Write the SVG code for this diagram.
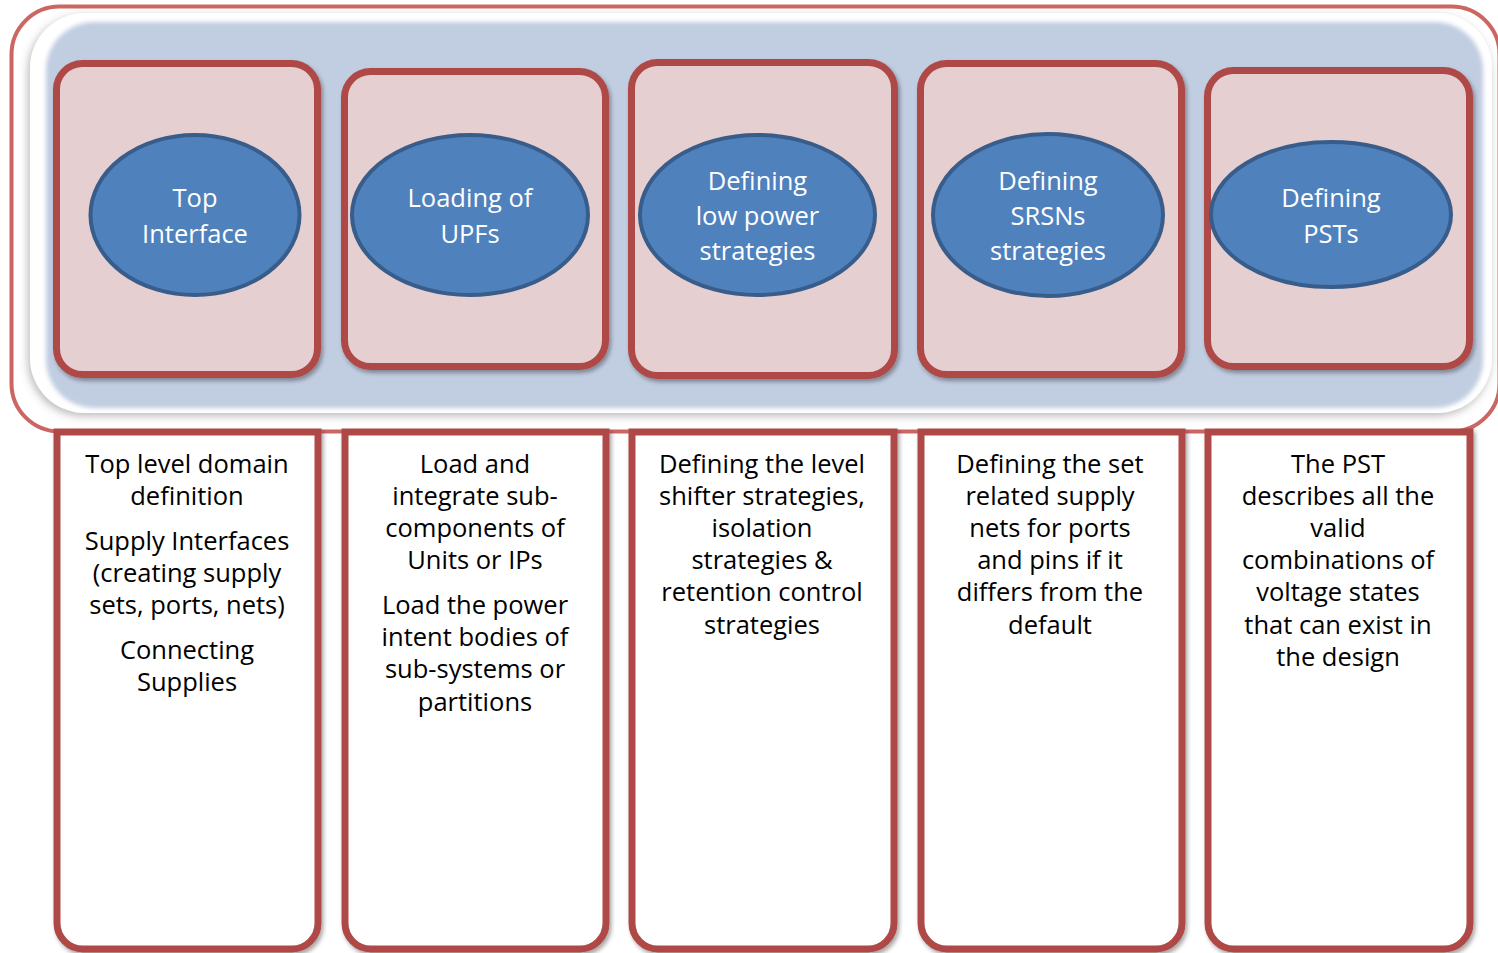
<svg xmlns="http://www.w3.org/2000/svg" width="1498" height="953" viewBox="0 0 1498 953">
<defs>
<filter id="sh" x="-10%" y="-10%" width="120%" height="120%">
<feDropShadow dx="2" dy="3" stdDeviation="2" flood-color="#000" flood-opacity="0.35"/>
</filter>
<filter id="band" x="-5%" y="-10%" width="110%" height="120%">
<feDropShadow dx="-2" dy="3" stdDeviation="4" flood-color="#666" flood-opacity="0.45"/>
</filter>
<filter id="soft" x="-5%" y="-10%" width="110%" height="120%">
<feGaussianBlur stdDeviation="2"/>
</filter>
<style>
.frame{fill:#fff;stroke:#CC6662;stroke-width:4}
.box{fill:#E6CFD0;stroke:#AE4A47;stroke-width:7;filter:url(#sh)}
.low{fill:#fff;stroke:#AE4A47;stroke-width:7;filter:url(#sh)}
.ell{fill:#4F81BD;stroke:#385D8A;stroke-width:4}
.et{font-family:"Open Sans","Noto Sans",sans-serif;font-size:25.5px;fill:#fff;text-anchor:middle}
.bt{font-family:"Open Sans","Noto Sans",sans-serif;font-size:25.5px;fill:#000;text-anchor:middle}
</style>
</defs>
<g id="background">
<rect class="frame" x="11.5" y="6.5" width="1488" height="425" rx="48"/>
<rect x="30" y="13" width="1462" height="400" rx="55" fill="#fff" filter="url(#band)"/>
<rect x="46" y="22" width="1437" height="386" rx="48" fill="#C1CDE1" filter="url(#soft)"/>
</g>
<g id="lower-boxes">
<g id="desc1">
<path class="low" d="M57,432 H318 V923 A26,26 0 0 1 292,949 H83 A26,26 0 0 1 57,923 Z"/>
<text class="bt" x="187" y="473">Top level domain</text>
<text class="bt" x="187" y="505">definition</text>
<text class="bt" x="187" y="550">Supply Interfaces</text>
<text class="bt" x="187" y="582">(creating supply</text>
<text class="bt" x="187" y="614">sets, ports, nets)</text>
<text class="bt" x="187" y="659">Connecting</text>
<text class="bt" x="187" y="691">Supplies</text>
</g>
<g id="desc2">
<path class="low" d="M345,432 H606 V923 A26,26 0 0 1 580,949 H371 A26,26 0 0 1 345,923 Z"/>
<text class="bt" x="475" y="473">Load and</text>
<text class="bt" x="475" y="505">integrate sub-</text>
<text class="bt" x="475" y="537">components of</text>
<text class="bt" x="475" y="569">Units or IPs</text>
<text class="bt" x="475" y="614">Load the power</text>
<text class="bt" x="475" y="646">intent bodies of</text>
<text class="bt" x="475" y="678">sub-systems or</text>
<text class="bt" x="475" y="711">partitions</text>
</g>
<g id="desc3">
<path class="low" d="M632,432 H894 V923 A26,26 0 0 1 868,949 H658 A26,26 0 0 1 632,923 Z"/>
<text class="bt" x="762" y="473">Defining the level</text>
<text class="bt" x="762" y="505">shifter strategies,</text>
<text class="bt" x="762" y="537">isolation</text>
<text class="bt" x="762" y="569">strategies &amp;</text>
<text class="bt" x="762" y="601">retention control</text>
<text class="bt" x="762" y="634">strategies</text>
</g>
<g id="desc4">
<path class="low" d="M921,432 H1182 V923 A26,26 0 0 1 1156,949 H947 A26,26 0 0 1 921,923 Z"/>
<text class="bt" x="1050" y="473">Defining the set</text>
<text class="bt" x="1050" y="505">related supply</text>
<text class="bt" x="1050" y="537">nets for ports</text>
<text class="bt" x="1050" y="569">and pins if it</text>
<text class="bt" x="1050" y="601">differs from the</text>
<text class="bt" x="1050" y="634">default</text>
</g>
<g id="desc5">
<path class="low" d="M1208,432 H1470 V923 A26,26 0 0 1 1444,949 H1234 A26,26 0 0 1 1208,923 Z"/>
<text class="bt" x="1338" y="473">The PST</text>
<text class="bt" x="1338" y="505">describes all the</text>
<text class="bt" x="1338" y="537">valid</text>
<text class="bt" x="1338" y="569">combinations of</text>
<text class="bt" x="1338" y="601">voltage states</text>
<text class="bt" x="1338" y="634">that can exist in</text>
<text class="bt" x="1338" y="666">the design</text>
</g>
</g>
<g id="step1">
<rect class="box" x="56.5" y="63.5" width="261" height="311" rx="26"/>
<ellipse class="ell" cx="195" cy="215" rx="104.5" ry="80"/>
<text class="et" x="195" y="207">Top</text>
<text class="et" x="195" y="243">Interface</text>
</g>
<g id="step2">
<rect class="box" x="344.5" y="71.5" width="261" height="295" rx="26"/>
<ellipse class="ell" cx="470" cy="215" rx="118" ry="80"/>
<text class="et" x="470" y="207">Loading of</text>
<text class="et" x="470" y="243">UPFs</text>
</g>
<g id="step3">
<rect class="box" x="631.5" y="62.5" width="263" height="313" rx="26"/>
<ellipse class="ell" cx="757.5" cy="215" rx="117.5" ry="80"/>
<text class="et" x="757.5" y="190">Defining</text>
<text class="et" x="757.5" y="225">low power</text>
<text class="et" x="757.5" y="260">strategies</text>
</g>
<g id="step4">
<rect class="box" x="920.5" y="63.5" width="261" height="311" rx="26"/>
<ellipse class="ell" cx="1048" cy="215" rx="115" ry="81"/>
<text class="et" x="1048" y="190">Defining</text>
<text class="et" x="1048" y="225">SRSNs</text>
<text class="et" x="1048" y="260">strategies</text>
</g>
<g id="step5">
<rect class="box" x="1207.5" y="70.5" width="262" height="296" rx="26"/>
<ellipse class="ell" cx="1331" cy="214.5" rx="120" ry="72.5"/>
<text class="et" x="1331" y="207">Defining</text>
<text class="et" x="1331" y="243">PSTs</text>
</g>
<g id="connectors"></g>
</svg>
